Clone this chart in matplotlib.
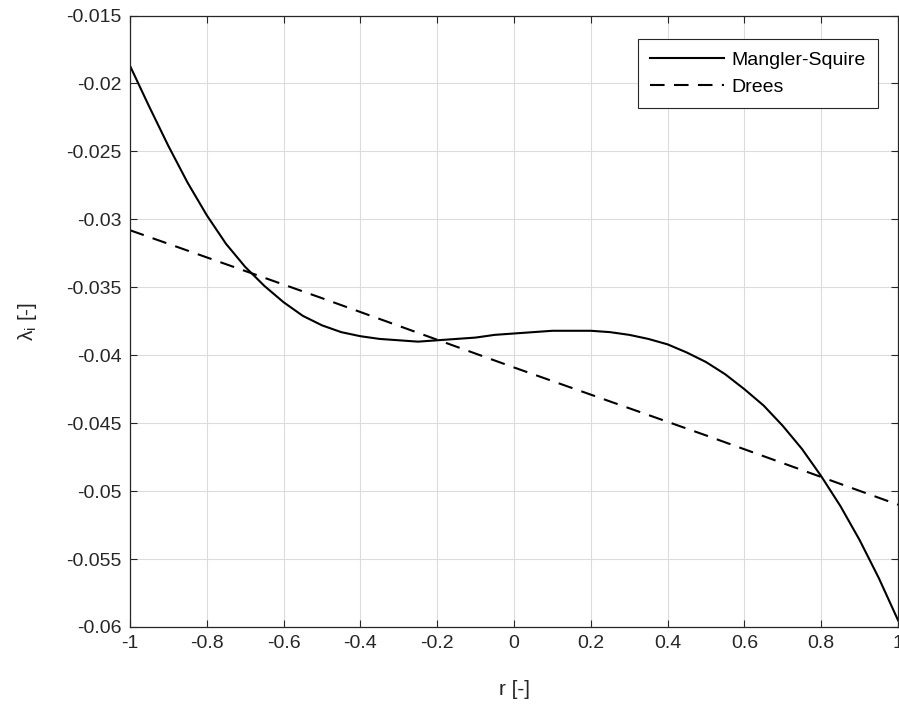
import numpy as np
import matplotlib
matplotlib.use("Agg")
import matplotlib.pyplot as plt
from matplotlib.ticker import FuncFormatter

# radial position r [-]
r = [-1.00, -0.95, -0.90, -0.85, -0.80, -0.75, -0.70, -0.65, -0.60, -0.55,
     -0.50, -0.45, -0.40, -0.35, -0.30, -0.25, -0.20, -0.15, -0.10, -0.05,
     0.00, 0.05, 0.10, 0.15, 0.20, 0.25, 0.30, 0.35, 0.40, 0.45,
     0.50, 0.55, 0.60, 0.65, 0.70, 0.75, 0.80, 0.85, 0.90, 0.95, 1.00]

# inflow ratio, Mangler-Squire model
lam_ms = [-0.0187, -0.0217, -0.0246, -0.0273, -0.0297, -0.0318, -0.0335,
          -0.0349, -0.0361, -0.0371, -0.0378, -0.0383, -0.0386, -0.0388,
          -0.0389, -0.0390, -0.0389, -0.0388, -0.0387, -0.0385, -0.0384,
          -0.0383, -0.0382, -0.0382, -0.0382, -0.0383, -0.0385, -0.0388,
          -0.0392, -0.0398, -0.0405, -0.0414, -0.0425, -0.0437, -0.0452,
          -0.0469, -0.0489, -0.0511, -0.0536, -0.0564, -0.0595]

# Drees linear model
r_drees = [-1.0, -0.5, 0.0, 0.5, 1.0]
lam_drees = [-0.0308, -0.0358, -0.0409, -0.0459, -0.0510]

x_ticks = [-1, -0.8, -0.6, -0.4, -0.2, 0, 0.2, 0.4, 0.6, 0.8, 1]
y_ticks = [-0.06, -0.055, -0.05, -0.045, -0.04, -0.035, -0.03, -0.025,
           -0.02, -0.015]

plt.rcParams["font.family"] = ["Liberation Sans", "DejaVu Sans"]
plt.rcParams["axes.unicode_minus"] = False
plt.rcParams["mathtext.fontset"] = "custom"
plt.rcParams["mathtext.rm"] = "Liberation Sans"
plt.rcParams["mathtext.it"] = "Liberation Sans"

dark = "#262626"
fig = plt.figure(figsize=(8.99, 7.06), dpi=100)
ax = fig.add_axes([0.1446, 0.1119, 0.8543, 0.8661])

ax.plot(r, lam_ms, color="black", lw=1.5, label="Mangler-Squire",
        solid_joinstyle="round")
ax.plot(r_drees, lam_drees, color="black", lw=1.5, ls=(0, (7, 4.5)),
        label="Drees")

ax.set_xlim(-1, 1)
ax.set_ylim(-0.06, -0.015)
ax.set_xticks(x_ticks)
ax.set_yticks(y_ticks)
fmt = FuncFormatter(lambda v, p: f"{v:g}")
ax.xaxis.set_major_formatter(fmt)
ax.yaxis.set_major_formatter(fmt)
ax.grid(True, color="#dcdcdc", lw=0.8)
ax.set_axisbelow(True)
ax.tick_params(direction="in", length=5, width=0.8, top=True, right=True,
               labelsize=14, colors=dark, pad=6)
for s in ax.spines.values():
    s.set_color(dark)
    s.set_linewidth(0.9)

ax.set_xlabel("r [-]", fontsize=15, color=dark, va="center")
ax.xaxis.set_label_coords(0.5, -0.103)
ax.set_ylabel(r"$\lambda_{\rm i}$ [-]", fontsize=15, color=dark, va="center")
ax.yaxis.set_label_coords(-0.134, 0.5)

leg = ax.legend(loc="upper right", fontsize=14, handlelength=3.8,
                handletextpad=0.36, borderpad=0.65, labelspacing=0.46,
                fancybox=False, framealpha=1, edgecolor=dark,
                borderaxespad=0, bbox_to_anchor=(0.974, 0.9616))
leg.get_frame().set_linewidth(0.8)

fig.savefig("out.png", dpi=100)
